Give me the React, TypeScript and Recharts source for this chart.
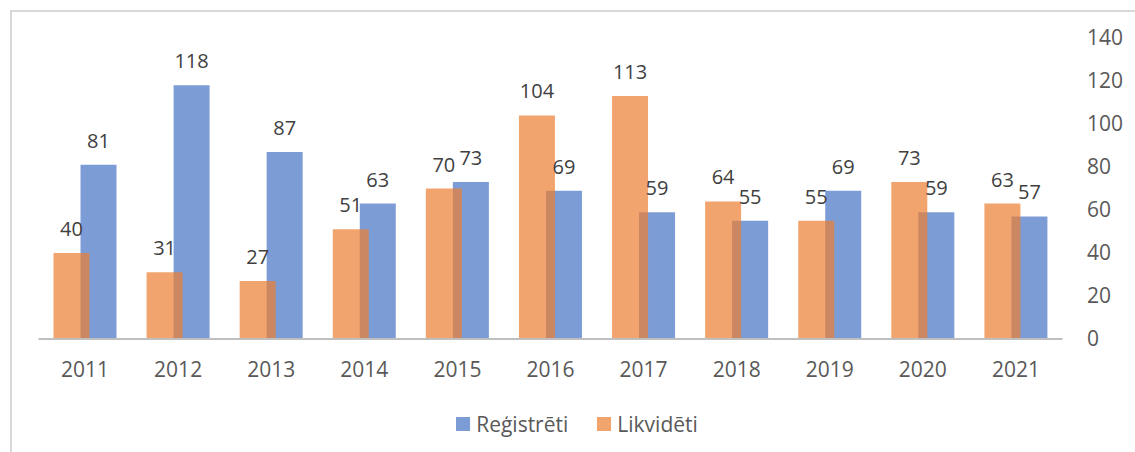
import React from "react";
import { BarChart, Bar, XAxis, YAxis, Legend, LabelList } from "recharts";

const years = ["2011", "2012", "2013", "2014", "2015", "2016", "2017", "2018", "2019", "2020", "2021"];
const registered = [81, 118, 87, 63, 73, 69, 59, 55, 69, 59, 57];
const liquidated = [40, 31, 27, 51, 70, 104, 113, 64, 55, 73, 63];
const yTicks = [0, 20, 40, 60, 80, 100, 120, 140];

const seriesNames = { registered: "Reģistrēti", liquidated: "Likvidēti" };
const colors = { registered: "#4472C4", liquidated: "#ED7D31" };

const data = years.map((y, i) => ({ year: y, registered: registered[i], liquidated: liquidated[i] }));

const FONT = "'Open Sans', 'Noto Sans', sans-serif";

const LegendContent = () => (
  <div
    style={{
      display: "flex",
      justifyContent: "center",
      alignItems: "center",
      paddingLeft: 19,
      fontFamily: FONT,
      fontSize: 21,
      color: "#595959",
    }}
  >
    {(["registered", "liquidated"] as const).map((k, i) => (
      <div key={k} style={{ display: "flex", alignItems: "center", marginLeft: i === 0 ? 0 : 29 }}>
        <div style={{ width: 14, height: 14, background: colors[k], opacity: 0.7, marginRight: 6 }} />
        <span>{seriesNames[k]}</span>
      </div>
    ))}
  </div>
);

export default function App() {
  return (
    <div style={{ position: "absolute", left: 0, top: 0, width: 1135, height: 452, background: "#fff", overflow: "hidden" }}>
      <div
        style={{
          position: "absolute",
          left: 10,
          top: 10,
          width: 1140,
          height: 460,
          border: "2px solid #d9d9d9",
          boxSizing: "border-box",
        }}
      />
      <div style={{ position: "absolute", left: 0, top: 0 }}>
        <BarChart
          width={1135}
          height={452}
          data={data}
          margin={{ top: 38, left: 38.5, right: 12.5, bottom: 73 }}
          barGap={-63}
          barSize={36}
        >
          <XAxis
            dataKey="year"
            height={40}
            tickLine={false}
            tickSize={0}
            tickMargin={23}
            axisLine={{ stroke: "#bfbfbf", strokeWidth: 2 }}
            tick={{ fill: "#595959", fontSize: 21, fontFamily: FONT }}
            interval={0}
          />
          <YAxis
            orientation="right"
            width={60}
            domain={[0, 140]}
            ticks={yTicks}
            axisLine={false}
            tickLine={false}
            tickSize={0}
            tickMargin={24.5}
            tick={{ fill: "#595959", fontSize: 21, fontFamily: FONT }}
            interval={0}
          />
          <Legend
            verticalAlign="middle"
            align="center"
            layout="horizontal"
            content={<LegendContent />}
            wrapperStyle={{ top: 410, left: 0, width: 1135, height: 28 }}
          />
          <Bar
            dataKey="registered"
            name={seriesNames.registered}
            fill={colors.registered}
            fillOpacity={0.7}
            isAnimationActive={false}
          >
            <LabelList
              dataKey="registered"
              position="top"
              offset={17}
              style={{ fill: "#404040", fontSize: 20, fontFamily: FONT }}
            />
          </Bar>
          <Bar
            dataKey="liquidated"
            name={seriesNames.liquidated}
            fill={colors.liquidated}
            fillOpacity={0.7}
            isAnimationActive={false}
          >
            <LabelList
              dataKey="liquidated"
              position="top"
              offset={17}
              style={{ fill: "#404040", fontSize: 20, fontFamily: FONT }}
            />
          </Bar>
        </BarChart>
      </div>
    </div>
  );
}
